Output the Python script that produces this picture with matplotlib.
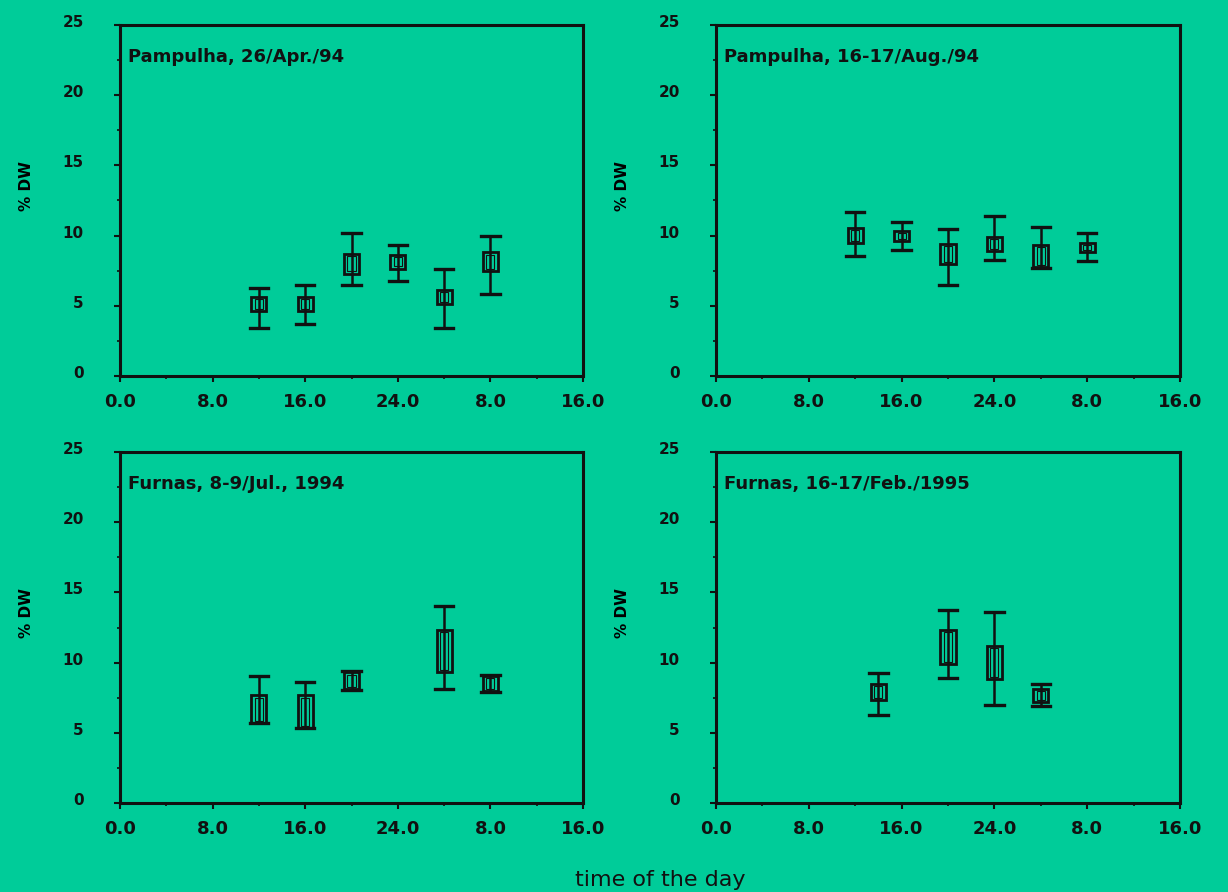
import matplotlib
matplotlib.use("Agg")
import matplotlib.pyplot as plt
from matplotlib.patches import Rectangle
from matplotlib.ticker import MultipleLocator, FixedLocator
from matplotlib.transforms import ScaledTranslation

BG = "#00CC99"

titles = ["Pampulha, 26/Apr./94", "Pampulha, 16-17/Aug./94",
          "Furnas, 8-9/Jul., 1994", "Furnas, 16-17/Feb./1995"]

# time (h), whisker low, box low, box high, whisker high
p1_time = [12, 16, 20, 24, 28, 32]
p1_wlo = [3.4, 3.7, 6.5, 6.75, 3.4, 5.85]
p1_blo = [4.6, 4.6, 7.3, 7.65, 5.1, 7.45]
p1_bhi = [5.6, 5.6, 8.7, 8.6, 6.1, 8.8]
p1_whi = [6.3, 6.5, 10.2, 9.35, 7.6, 10.0]

p2_time = [12, 16, 20, 24, 28, 32]
p2_wlo = [8.55, 8.98, 6.46, 8.27, 7.7, 8.17]
p2_blo = [9.5, 9.6, 8.0, 8.88, 7.74, 8.83]
p2_bhi = [10.54, 10.3, 9.4, 9.92, 9.35, 9.45]
p2_whi = [11.67, 10.97, 10.49, 11.43, 10.63, 10.16]

p3_time = [12, 16, 20, 28, 32]
p3_wlo = [5.68, 5.35, 8.04, 8.14, 7.9]
p3_blo = [5.68, 5.35, 8.1, 9.32, 7.95]
p3_bhi = [7.66, 7.66, 9.3, 12.3, 9.05]
p3_whi = [9.08, 8.61, 9.42, 14.05, 9.13]

p4_time = [14, 20, 24, 28]
p4_wlo = [6.3, 8.9, 6.96, 6.9]
p4_blo = [7.33, 9.89, 8.85, 7.19]
p4_bhi = [8.47, 12.3, 11.2, 8.14]
p4_whi = [9.28, 13.77, 13.58, 8.47]

panels = [
    (p1_time, p1_wlo, p1_blo, p1_bhi, p1_whi),
    (p2_time, p2_wlo, p2_blo, p2_bhi, p2_whi),
    (p3_time, p3_wlo, p3_blo, p3_bhi, p3_whi),
    (p4_time, p4_wlo, p4_blo, p4_bhi, p4_whi),
]

xticks = [0, 8, 16, 24, 32, 40]
xticklabels = ["0.0", "8.0", "16.0", "24.0", "8.0", "16.0"]
yticks = [0, 5, 10, 15, 20, 25]
yticklabels = ["0", "5", "10", "15", "20", "25"]

fig = plt.figure(figsize=(12.28, 8.92), dpi=100, facecolor=BG)

W, H = 1228, 892
boxes = [(120, 25, 583, 376), (716, 25, 1180, 376),
         (120, 452, 583, 803), (716, 452, 1180, 803)]

line_col = "#111111"
for i, (bx, data) in enumerate(zip(boxes, panels)):
    l, t, r, b = bx
    ax = fig.add_axes([l / W, 1 - b / H, (r - l) / W, (b - t) / H])
    ax.set_facecolor(BG)
    ax.set_xlim(0, 40)
    ax.set_ylim(0, 25)
    for s in ax.spines.values():
        s.set_linewidth(2.2)
        s.set_color(line_col)
    ax.xaxis.set_major_locator(FixedLocator(xticks))
    ax.set_xticklabels(xticklabels, fontsize=13, fontweight="bold")
    ax.xaxis.set_minor_locator(MultipleLocator(4))
    ax.yaxis.set_major_locator(FixedLocator(yticks))
    ax.set_yticklabels(yticklabels, fontsize=11, fontweight="bold")
    ax.yaxis.set_minor_locator(MultipleLocator(2.5))
    ax.tick_params(axis="both", which="major", direction="out", length=4, width=1.5, colors=line_col)
    ax.tick_params(axis="both", which="minor", direction="out", length=2.5, width=1.2, colors=line_col)
    ax.tick_params(axis="x", pad=8)
    ax.tick_params(axis="y", pad=22)
    off = ScaledTranslation(0, 4 / 100, fig.dpi_scale_trans)
    for lab in ax.get_yticklabels():
        lab.set_transform(lab.get_transform() + off)
    ax.set_ylabel("% DW", fontsize=11, fontweight="bold")
    ax.yaxis.set_label_coords(-0.186, 0.54)
    ax.text(0.018, 0.91, titles[i], transform=ax.transAxes, fontsize=13,
            fontweight="bold", ha="left", va="center", color=line_col)

    tm, wlo, blo, bhi, whi = data
    bw = 1.3
    cw = 1.6
    for x, a, c, d, e in zip(tm, wlo, blo, bhi, whi):
        ax.plot([x, x], [a, e], color=line_col, lw=1.8, zorder=5)
        ax.plot([x - cw / 2, x + cw / 2], [a, a], color=line_col, lw=2.4, zorder=5)
        ax.plot([x - cw / 2, x + cw / 2], [e, e], color=line_col, lw=2.4, zorder=5)
        ax.add_patch(Rectangle((x - bw / 2, c), bw, d - c, facecolor="none",
                               edgecolor=line_col, lw=2.0, zorder=4))
        ax.add_patch(Rectangle((x - bw / 2 + 0.3, c + 0.15), bw - 0.6, max(d - c - 0.3, 0.05),
                               facecolor="none", edgecolor=line_col, lw=0.8, zorder=4))

fig.text(660 / W, 1 - 880 / H, "time of the day", fontsize=16, ha="center", va="center",
         color=line_col)

fig.savefig("out.png", dpi=100, facecolor=BG)
